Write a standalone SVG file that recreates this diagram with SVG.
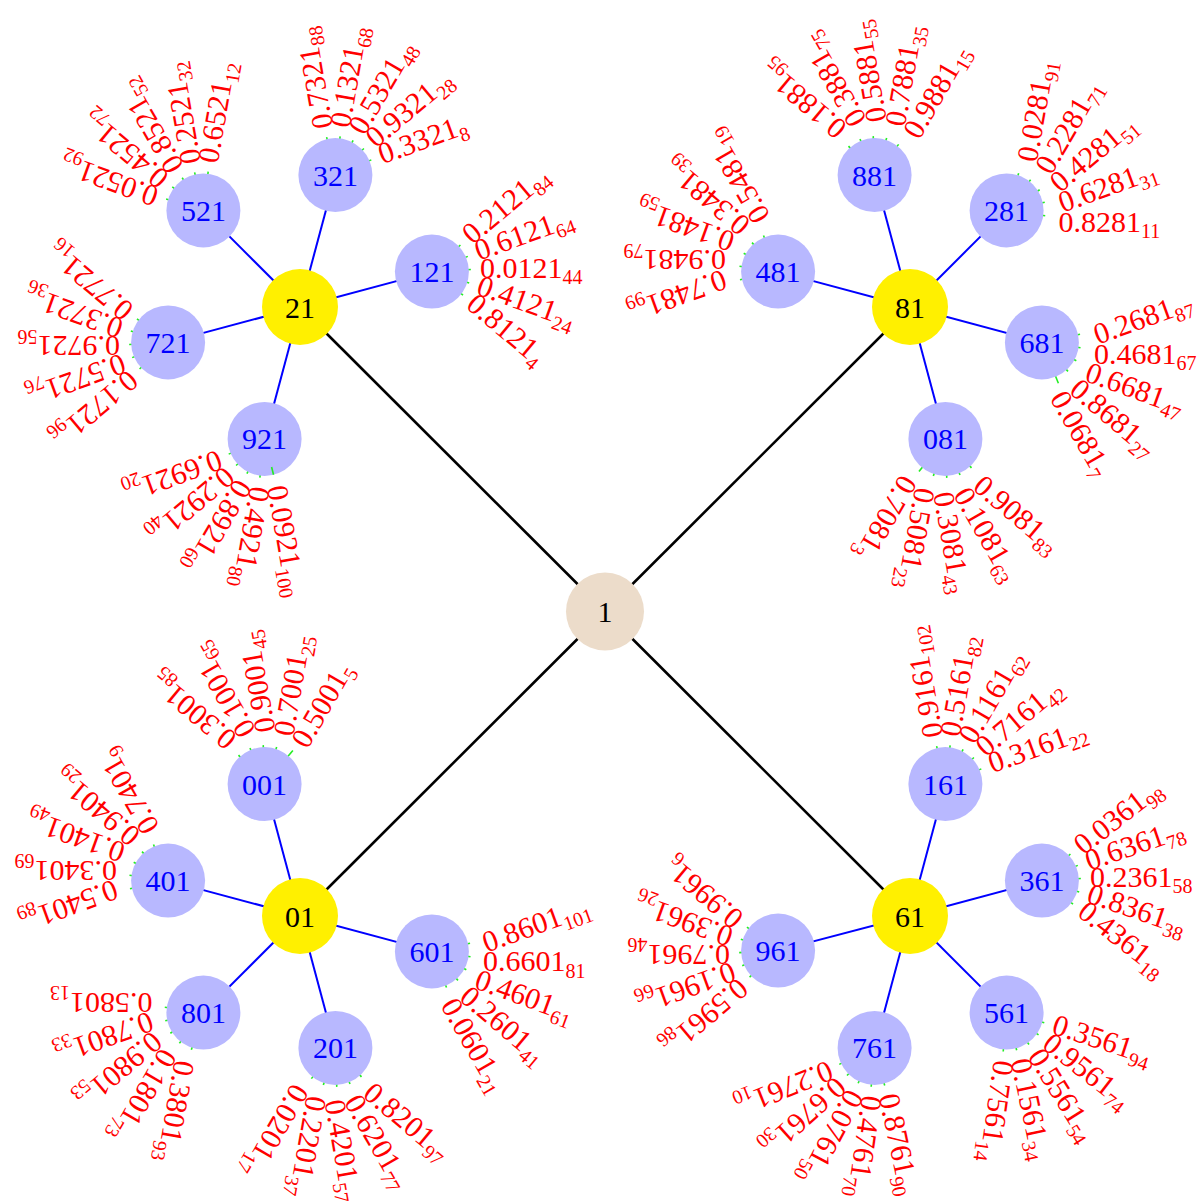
<svg xmlns="http://www.w3.org/2000/svg" width="1202" height="1202" viewBox="0 0 1202 1202">
<style>
.root{fill:#ECDCCA}
.y{fill:#FFF000}
.b{fill:#B8B8FF}
.nt{font-family:"Liberation Serif",serif;font-size:30px;text-anchor:middle;fill:#000}
.bt{fill:#0000FF}
.lf{font-family:"Liberation Serif",serif;font-size:30px;fill:#FF0000}
.sb{font-size:20px}
.e0{stroke:#000;stroke-width:2.6}
.e1{stroke:#0000FF;stroke-width:2}
.e2{stroke:#22EE22;stroke-width:1.6}
</style>
<rect width="1202" height="1202" fill="#fff"/>
<g id="connectors">
<line class="e0" x1="605" y1="611.5" x2="300" y2="307"/>
<line class="e0" x1="605" y1="611.5" x2="910" y2="307"/>
<line class="e0" x1="605" y1="611.5" x2="300" y2="916"/>
<line class="e0" x1="605" y1="611.5" x2="910" y2="916"/>
<line class="e1" x1="300" y1="307" x2="431.9" y2="271.6"/>
<line class="e1" x1="300" y1="307" x2="335.4" y2="175.1"/>
<line class="e1" x1="300" y1="307" x2="203.4" y2="210.4"/>
<line class="e1" x1="300" y1="307" x2="168.1" y2="342.4"/>
<line class="e1" x1="300" y1="307" x2="264.6" y2="438.9"/>
<line class="e1" x1="910" y1="307" x2="778.1" y2="271.6"/>
<line class="e1" x1="910" y1="307" x2="874.6" y2="175.1"/>
<line class="e1" x1="910" y1="307" x2="1006.6" y2="210.4"/>
<line class="e1" x1="910" y1="307" x2="1041.9" y2="342.4"/>
<line class="e1" x1="910" y1="307" x2="945.4" y2="438.9"/>
<line class="e1" x1="300" y1="916" x2="431.9" y2="951.4"/>
<line class="e1" x1="300" y1="916" x2="335.4" y2="1047.9"/>
<line class="e1" x1="300" y1="916" x2="203.4" y2="1012.6"/>
<line class="e1" x1="300" y1="916" x2="168.1" y2="880.6"/>
<line class="e1" x1="300" y1="916" x2="264.6" y2="784.1"/>
<line class="e1" x1="910" y1="916" x2="945.4" y2="784.1"/>
<line class="e1" x1="910" y1="916" x2="1041.9" y2="880.6"/>
<line class="e1" x1="910" y1="916" x2="1006.6" y2="1012.6"/>
<line class="e1" x1="910" y1="916" x2="874.6" y2="1047.9"/>
<line class="e1" x1="910" y1="916" x2="778.1" y2="950.6"/>
<g class="e2">
<g transform="translate(431.9,271.6)"><line x2="39" transform="rotate(-43)"/><line x2="39" transform="rotate(-23)"/><line x2="39" transform="rotate(-3)"/><line x2="39" transform="rotate(17)"/><line x2="39" transform="rotate(37)"/></g>
<g transform="translate(335.4,175.1)"><line x2="39" transform="rotate(-103)"/><line x2="39" transform="rotate(-83)"/><line x2="39" transform="rotate(-63)"/><line x2="39" transform="rotate(-43)"/><line x2="39" transform="rotate(-23)"/></g>
<g transform="translate(203.4,210.4)"><line x2="39" transform="rotate(-163)"/><line x2="39" transform="rotate(-143)"/><line x2="39" transform="rotate(-123)"/><line x2="39" transform="rotate(-103)"/><line x2="39" transform="rotate(-83)"/></g>
<g transform="translate(168.1,342.4)"><line x2="39" transform="rotate(137)"/><line x2="39" transform="rotate(157)"/><line x2="39" transform="rotate(177)"/><line x2="39" transform="rotate(197)"/><line x2="39" transform="rotate(217)"/></g>
<g transform="translate(264.6,438.9)"><line x2="39" transform="rotate(97)"/><line x2="39" transform="rotate(117)"/><line x2="39" transform="rotate(137)"/><line x2="39" transform="rotate(157)"/></g>
<g transform="translate(778.1,271.6)"><line x2="39" transform="rotate(168)"/><line x2="39" transform="rotate(188)"/><line x2="39" transform="rotate(208)"/><line x2="39" transform="rotate(228)"/><line x2="39" transform="rotate(248)"/></g>
<g transform="translate(874.6,175.1)"><line x2="39" transform="rotate(228)"/><line x2="39" transform="rotate(248)"/><line x2="39" transform="rotate(268)"/><line x2="39" transform="rotate(288)"/><line x2="39" transform="rotate(308)"/></g>
<g transform="translate(1006.6,210.4)"><line x2="39" transform="rotate(-72)"/><line x2="39" transform="rotate(-52)"/><line x2="39" transform="rotate(-32)"/><line x2="39" transform="rotate(-12)"/><line x2="39" transform="rotate(8)"/></g>
<g transform="translate(1041.9,342.4)"><line x2="39" transform="rotate(-12)"/><line x2="39" transform="rotate(8)"/><line x2="39" transform="rotate(28)"/><line x2="39" transform="rotate(48)"/><line x2="44" transform="rotate(68)"/></g>
<g transform="translate(945.4,438.9)"><line x2="39" transform="rotate(48)"/><line x2="39" transform="rotate(68)"/><line x2="39" transform="rotate(88)"/><line x2="39" transform="rotate(108)"/><line x2="42" transform="rotate(129)"/></g>
<g transform="translate(431.9,951.4)"><line x2="39" transform="rotate(-12)"/><line x2="39" transform="rotate(8)"/><line x2="39" transform="rotate(28)"/><line x2="39" transform="rotate(48)"/><line x2="39" transform="rotate(68)"/></g>
<g transform="translate(335.4,1047.9)"><line x2="39" transform="rotate(48)"/><line x2="39" transform="rotate(68)"/><line x2="39" transform="rotate(88)"/><line x2="39" transform="rotate(108)"/><line x2="39" transform="rotate(128)"/></g>
<g transform="translate(203.4,1012.6)"><line x2="39" transform="rotate(108)"/><line x2="39" transform="rotate(128)"/><line x2="39" transform="rotate(148)"/><line x2="39" transform="rotate(168)"/><line x2="39" transform="rotate(188)"/></g>
<g transform="translate(168.1,880.6)"><line x2="39" transform="rotate(168)"/><line x2="39" transform="rotate(188)"/><line x2="39" transform="rotate(208)"/><line x2="39" transform="rotate(228)"/><line x2="39" transform="rotate(248)"/></g>
<g transform="translate(264.6,784.1)"><line x2="39" transform="rotate(228)"/><line x2="39" transform="rotate(248)"/><line x2="39" transform="rotate(268)"/><line x2="39" transform="rotate(288)"/><line x2="44" transform="rotate(310)"/></g>
<g transform="translate(945.4,784.1)"><line x2="39" transform="rotate(-103)"/><line x2="39" transform="rotate(-83)"/><line x2="39" transform="rotate(-63)"/><line x2="39" transform="rotate(-43)"/><line x2="39" transform="rotate(-23)"/></g>
<g transform="translate(1041.9,880.6)"><line x2="39" transform="rotate(-43)"/><line x2="39" transform="rotate(-23)"/><line x2="39" transform="rotate(-3)"/><line x2="39" transform="rotate(17)"/><line x2="39" transform="rotate(37)"/></g>
<g transform="translate(1006.6,1012.6)"><line x2="39" transform="rotate(15)"/><line x2="39" transform="rotate(35)"/><line x2="39" transform="rotate(55)"/><line x2="39" transform="rotate(75)"/><line x2="39" transform="rotate(95)"/></g>
<g transform="translate(874.6,1047.9)"><line x2="39" transform="rotate(75)"/><line x2="39" transform="rotate(95)"/><line x2="39" transform="rotate(115)"/><line x2="39" transform="rotate(135)"/><line x2="39" transform="rotate(155)"/></g>
<g transform="translate(778.1,950.6)"><line x2="39" transform="rotate(137)"/><line x2="39" transform="rotate(157)"/><line x2="39" transform="rotate(177)"/><line x2="39" transform="rotate(197)"/><line x2="39" transform="rotate(217)"/></g>
</g>
</g>

<g id="n1"><circle class="root" cx="605" cy="611.5" r="39"/><text class="nt" x="605" y="622">1</text></g>
<g id="n21"><circle class="y" cx="300" cy="307" r="38"/><text class="nt" x="300" y="317.5">21</text></g>
<g id="n81"><circle class="y" cx="910" cy="307" r="38"/><text class="nt" x="910" y="317.5">81</text></g>
<g id="n01"><circle class="y" cx="300" cy="916" r="38"/><text class="nt" x="300" y="926.5">01</text></g>
<g id="n61"><circle class="y" cx="910" cy="916" r="38"/><text class="nt" x="910" y="926.5">61</text></g>

<g id="n121"><circle class="b" cx="431.9" cy="271.6" r="37"/><text class="nt bt" x="431.9" y="282">121</text>
<g transform="translate(431.9,271.6)">
<text class="lf" x="48" y="6" transform="rotate(-40)">0.2121<tspan class="sb" dy="6.5">84</tspan></text>
<text class="lf" x="48" y="6" transform="rotate(-20)">0.6121<tspan class="sb" dy="6.5">64</tspan></text>
<text class="lf" x="48" y="6" transform="rotate(0)">0.0121<tspan class="sb" dy="6.5">44</tspan></text>
<text class="lf" x="48" y="6" transform="rotate(20)">0.4121<tspan class="sb" dy="6.5">24</tspan></text>
<text class="lf" x="48" y="6" transform="rotate(40)">0.8121<tspan class="sb" dy="6.5">4</tspan></text>
</g></g>
<g id="n321"><circle class="b" cx="335.4" cy="175.1" r="37"/><text class="nt bt" x="335.4" y="185.5">321</text>
<g transform="translate(335.4,175.1)">
<text class="lf" x="48" y="6" transform="rotate(-100)">0.7321<tspan class="sb" dy="6.5">88</tspan></text>
<text class="lf" x="48" y="6" transform="rotate(-80)">0.1321<tspan class="sb" dy="6.5">68</tspan></text>
<text class="lf" x="48" y="6" transform="rotate(-60)">0.5321<tspan class="sb" dy="6.5">48</tspan></text>
<text class="lf" x="48" y="6" transform="rotate(-40)">0.9321<tspan class="sb" dy="6.5">28</tspan></text>
<text class="lf" x="48" y="6" transform="rotate(-20)">0.3321<tspan class="sb" dy="6.5">8</tspan></text>
</g></g>
<g id="n521"><circle class="b" cx="203.4" cy="210.4" r="37"/><text class="nt bt" x="203.4" y="220.8">521</text>
<g transform="translate(203.4,210.4)">
<text class="lf" x="48" y="6" transform="rotate(-160)">0.0521<tspan class="sb" dy="6.5">92</tspan></text>
<text class="lf" x="48" y="6" transform="rotate(-140)">0.4521<tspan class="sb" dy="6.5">72</tspan></text>
<text class="lf" x="48" y="6" transform="rotate(-120)">0.8521<tspan class="sb" dy="6.5">52</tspan></text>
<text class="lf" x="48" y="6" transform="rotate(-100)">0.2521<tspan class="sb" dy="6.5">32</tspan></text>
<text class="lf" x="48" y="6" transform="rotate(-80)">0.6521<tspan class="sb" dy="6.5">12</tspan></text>
</g></g>
<g id="n721"><circle class="b" cx="168.1" cy="342.4" r="37"/><text class="nt bt" x="168.1" y="352.8">721</text>
<g transform="translate(168.1,342.4)">
<text class="lf" x="48" y="6" transform="rotate(140)">0.1721<tspan class="sb" dy="6.5">96</tspan></text>
<text class="lf" x="48" y="6" transform="rotate(160)">0.5721<tspan class="sb" dy="6.5">76</tspan></text>
<text class="lf" x="48" y="6" transform="rotate(180)">0.9721<tspan class="sb" dy="6.5">56</tspan></text>
<text class="lf" x="48" y="6" transform="rotate(200)">0.3721<tspan class="sb" dy="6.5">36</tspan></text>
<text class="lf" x="48" y="6" transform="rotate(220)">0.7721<tspan class="sb" dy="6.5">16</tspan></text>
</g></g>
<g id="n921"><circle class="b" cx="264.6" cy="438.9" r="37"/><text class="nt bt" x="264.6" y="449.3">921</text>
<line class="e2" transform="translate(264.6,438.9) rotate(76)" x1="29" x2="37"/>
<g transform="translate(264.6,438.9)">
<text class="lf" x="48" y="6" transform="rotate(80)">0.0921<tspan class="sb" dy="6.5">100</tspan></text>
<text class="lf" x="48" y="6" transform="rotate(100)">0.4921<tspan class="sb" dy="6.5">80</tspan></text>
<text class="lf" x="48" y="6" transform="rotate(120)">0.8921<tspan class="sb" dy="6.5">60</tspan></text>
<text class="lf" x="48" y="6" transform="rotate(140)">0.2921<tspan class="sb" dy="6.5">40</tspan></text>
<text class="lf" x="48" y="6" transform="rotate(160)">0.6921<tspan class="sb" dy="6.5">20</tspan></text>
</g></g>

<g id="n481"><circle class="b" cx="778.1" cy="271.6" r="37"/><text class="nt bt" x="778.1" y="282">481</text>
<g transform="translate(778.1,271.6)">
<text class="lf" x="52" y="21.5" transform="rotate(160)">0.7481<tspan class="sb" dy="6.5">99</tspan></text>
<text class="lf" x="52" y="21.5" transform="rotate(180)">0.9481<tspan class="sb" dy="6.5">79</tspan></text>
<text class="lf" x="52" y="21.5" transform="rotate(200)">0.1481<tspan class="sb" dy="6.5">59</tspan></text>
<text class="lf" x="52" y="21.5" transform="rotate(220)">0.3481<tspan class="sb" dy="6.5">39</tspan></text>
<text class="lf" x="52" y="21.5" transform="rotate(240)">0.5481<tspan class="sb" dy="6.5">19</tspan></text>
</g></g>
<g id="n881"><circle class="b" cx="874.6" cy="175.1" r="37"/><text class="nt bt" x="874.6" y="185.5">881</text>
<g transform="translate(874.6,175.1)">
<text class="lf" x="52" y="21.5" transform="rotate(220)">0.1881<tspan class="sb" dy="6.5">95</tspan></text>
<text class="lf" x="52" y="21.5" transform="rotate(240)">0.3881<tspan class="sb" dy="6.5">75</tspan></text>
<text class="lf" x="52" y="21.5" transform="rotate(260)">0.5881<tspan class="sb" dy="6.5">55</tspan></text>
<text class="lf" x="52" y="21.5" transform="rotate(280)">0.7881<tspan class="sb" dy="6.5">35</tspan></text>
<text class="lf" x="52" y="21.5" transform="rotate(300)">0.9881<tspan class="sb" dy="6.5">15</tspan></text>
</g></g>
<g id="n281"><circle class="b" cx="1006.6" cy="210.4" r="37"/><text class="nt bt" x="1006.6" y="220.8">281</text>
<g transform="translate(1006.6,210.4)">
<text class="lf" x="52" y="21.5" transform="rotate(-80)">0.0281<tspan class="sb" dy="6.5">91</tspan></text>
<text class="lf" x="52" y="21.5" transform="rotate(-60)">0.2281<tspan class="sb" dy="6.5">71</tspan></text>
<text class="lf" x="52" y="21.5" transform="rotate(-40)">0.4281<tspan class="sb" dy="6.5">51</tspan></text>
<text class="lf" x="52" y="21.5" transform="rotate(-20)">0.6281<tspan class="sb" dy="6.5">31</tspan></text>
<text class="lf" x="52" y="21.5" transform="rotate(0)">0.8281<tspan class="sb" dy="6.5">11</tspan></text>
</g></g>
<g id="n681"><circle class="b" cx="1041.9" cy="342.4" r="37"/><text class="nt bt" x="1041.9" y="352.8">681</text>
<g transform="translate(1041.9,342.4)">
<text class="lf" x="52" y="21.5" transform="rotate(-20)">0.2681<tspan class="sb" dy="6.5">87</tspan></text>
<text class="lf" x="52" y="21.5" transform="rotate(0)">0.4681<tspan class="sb" dy="6.5">67</tspan></text>
<text class="lf" x="52" y="21.5" transform="rotate(20)">0.6681<tspan class="sb" dy="6.5">47</tspan></text>
<text class="lf" x="52" y="21.5" transform="rotate(40)">0.8681<tspan class="sb" dy="6.5">27</tspan></text>
<text class="lf" x="52" y="21.5" transform="rotate(60)">0.0681<tspan class="sb" dy="6.5">7</tspan></text>
</g></g>
<g id="n081"><circle class="b" cx="945.4" cy="438.9" r="37"/><text class="nt bt" x="945.4" y="449.3">081</text>
<g transform="translate(945.4,438.9)">
<text class="lf" x="52" y="21.5" transform="rotate(40)">0.9081<tspan class="sb" dy="6.5">83</tspan></text>
<text class="lf" x="52" y="21.5" transform="rotate(60)">0.1081<tspan class="sb" dy="6.5">63</tspan></text>
<text class="lf" x="52" y="21.5" transform="rotate(80)">0.3081<tspan class="sb" dy="6.5">43</tspan></text>
<text class="lf" x="52" y="21.5" transform="rotate(100)">0.5081<tspan class="sb" dy="6.5">23</tspan></text>
<text class="lf" x="52" y="21.5" transform="rotate(120)">0.7081<tspan class="sb" dy="6.5">3</tspan></text>
</g></g>

<g id="n601"><circle class="b" cx="431.9" cy="951.4" r="37"/><text class="nt bt" x="431.9" y="961.8">601</text>
<g transform="translate(431.9,951.4)">
<text class="lf" x="51" y="20" transform="rotate(-20)">0.8601<tspan class="sb" dy="6.5">101</tspan></text>
<text class="lf" x="51" y="20" transform="rotate(0)">0.6601<tspan class="sb" dy="6.5">81</tspan></text>
<text class="lf" x="51" y="20" transform="rotate(20)">0.4601<tspan class="sb" dy="6.5">61</tspan></text>
<text class="lf" x="51" y="20" transform="rotate(40)">0.2601<tspan class="sb" dy="6.5">41</tspan></text>
<text class="lf" x="51" y="20" transform="rotate(60)">0.0601<tspan class="sb" dy="6.5">21</tspan></text>
</g></g>
<g id="n201"><circle class="b" cx="335.4" cy="1047.9" r="37"/><text class="nt bt" x="335.4" y="1058.3">201</text>
<g transform="translate(335.4,1047.9)">
<text class="lf" x="51" y="20" transform="rotate(40)">0.8201<tspan class="sb" dy="6.5">97</tspan></text>
<text class="lf" x="51" y="20" transform="rotate(60)">0.6201<tspan class="sb" dy="6.5">77</tspan></text>
<text class="lf" x="51" y="20" transform="rotate(80)">0.4201<tspan class="sb" dy="6.5">57</tspan></text>
<text class="lf" x="51" y="20" transform="rotate(100)">0.2201<tspan class="sb" dy="6.5">37</tspan></text>
<text class="lf" x="51" y="20" transform="rotate(120)">0.0201<tspan class="sb" dy="6.5">17</tspan></text>
</g></g>
<g id="n801"><circle class="b" cx="203.4" cy="1012.6" r="37"/><text class="nt bt" x="203.4" y="1023">801</text>
<g transform="translate(203.4,1012.6)">
<text class="lf" x="51" y="20" transform="rotate(100)">0.3801<tspan class="sb" dy="6.5">93</tspan></text>
<text class="lf" x="51" y="20" transform="rotate(120)">0.1801<tspan class="sb" dy="6.5">73</tspan></text>
<text class="lf" x="51" y="20" transform="rotate(140)">0.9801<tspan class="sb" dy="6.5">53</tspan></text>
<text class="lf" x="51" y="20" transform="rotate(160)">0.7801<tspan class="sb" dy="6.5">33</tspan></text>
<text class="lf" x="51" y="20" transform="rotate(180)">0.5801<tspan class="sb" dy="6.5">13</tspan></text>
</g></g>
<g id="n401"><circle class="b" cx="168.1" cy="880.6" r="37"/><text class="nt bt" x="168.1" y="891">401</text>
<g transform="translate(168.1,880.6)">
<text class="lf" x="51" y="20" transform="rotate(160)">0.5401<tspan class="sb" dy="6.5">89</tspan></text>
<text class="lf" x="51" y="20" transform="rotate(180)">0.3401<tspan class="sb" dy="6.5">69</tspan></text>
<text class="lf" x="51" y="20" transform="rotate(200)">0.1401<tspan class="sb" dy="6.5">49</tspan></text>
<text class="lf" x="51" y="20" transform="rotate(220)">0.9401<tspan class="sb" dy="6.5">29</tspan></text>
<text class="lf" x="51" y="20" transform="rotate(240)">0.7401<tspan class="sb" dy="6.5">9</tspan></text>
</g></g>
<g id="n001"><circle class="b" cx="264.6" cy="784.1" r="37"/><text class="nt bt" x="264.6" y="794.5">001</text>
<g transform="translate(264.6,784.1)">
<text class="lf" x="51" y="20" transform="rotate(220)">0.3001<tspan class="sb" dy="6.5">85</tspan></text>
<text class="lf" x="51" y="20" transform="rotate(240)">0.1001<tspan class="sb" dy="6.5">65</tspan></text>
<text class="lf" x="51" y="20" transform="rotate(260)">0.9001<tspan class="sb" dy="6.5">45</tspan></text>
<text class="lf" x="51" y="20" transform="rotate(280)">0.7001<tspan class="sb" dy="6.5">25</tspan></text>
<text class="lf" x="51" y="20" transform="rotate(300)">0.5001<tspan class="sb" dy="6.5">5</tspan></text>
</g></g>

<g id="n161"><circle class="b" cx="945.4" cy="784.1" r="37"/><text class="nt bt" x="945.4" y="794.5">161</text>
<g transform="translate(945.4,784.1)">
<text class="lf" x="48" y="6" transform="rotate(-100)">0.9161<tspan class="sb" dy="6.5">102</tspan></text>
<text class="lf" x="48" y="6" transform="rotate(-80)">0.5161<tspan class="sb" dy="6.5">82</tspan></text>
<text class="lf" x="48" y="6" transform="rotate(-60)">0.1161<tspan class="sb" dy="6.5">62</tspan></text>
<text class="lf" x="48" y="6" transform="rotate(-40)">0.7161<tspan class="sb" dy="6.5">42</tspan></text>
<text class="lf" x="48" y="6" transform="rotate(-20)">0.3161<tspan class="sb" dy="6.5">22</tspan></text>
</g></g>
<g id="n361"><circle class="b" cx="1041.9" cy="880.6" r="37"/><text class="nt bt" x="1041.9" y="891">361</text>
<g transform="translate(1041.9,880.6)">
<text class="lf" x="48" y="6" transform="rotate(-38)">0.0361<tspan class="sb" dy="6.5">98</tspan></text>
<text class="lf" x="48" y="6" transform="rotate(-19)">0.6361<tspan class="sb" dy="6.5">78</tspan></text>
<text class="lf" x="48" y="6" transform="rotate(0)">0.2361<tspan class="sb" dy="6.5">58</tspan></text>
<text class="lf" x="48" y="6" transform="rotate(19)">0.8361<tspan class="sb" dy="6.5">38</tspan></text>
<text class="lf" x="48" y="6" transform="rotate(38)">0.4361<tspan class="sb" dy="6.5">18</tspan></text>
</g></g>
<g id="n561"><circle class="b" cx="1006.6" cy="1012.6" r="37"/><text class="nt bt" x="1006.6" y="1023">561</text>
<g transform="translate(1006.6,1012.6)">
<text class="lf" x="48" y="6" transform="rotate(18)">0.3561<tspan class="sb" dy="6.5">94</tspan></text>
<text class="lf" x="48" y="6" transform="rotate(38)">0.9561<tspan class="sb" dy="6.5">74</tspan></text>
<text class="lf" x="48" y="6" transform="rotate(58)">0.5561<tspan class="sb" dy="6.5">54</tspan></text>
<text class="lf" x="48" y="6" transform="rotate(78)">0.1561<tspan class="sb" dy="6.5">34</tspan></text>
<text class="lf" x="48" y="6" transform="rotate(98)">0.7561<tspan class="sb" dy="6.5">14</tspan></text>
</g></g>
<g id="n761"><circle class="b" cx="874.6" cy="1047.9" r="37"/><text class="nt bt" x="874.6" y="1058.3">761</text>
<g transform="translate(874.6,1047.9)">
<text class="lf" x="48" y="6" transform="rotate(78)">0.8761<tspan class="sb" dy="6.5">90</tspan></text>
<text class="lf" x="48" y="6" transform="rotate(98)">0.4761<tspan class="sb" dy="6.5">70</tspan></text>
<text class="lf" x="48" y="6" transform="rotate(118)">0.0761<tspan class="sb" dy="6.5">50</tspan></text>
<text class="lf" x="48" y="6" transform="rotate(138)">0.6761<tspan class="sb" dy="6.5">30</tspan></text>
<text class="lf" x="48" y="6" transform="rotate(158)">0.2761<tspan class="sb" dy="6.5">10</tspan></text>
</g></g>
<g id="n961"><circle class="b" cx="778.1" cy="950.6" r="37"/><text class="nt bt" x="778.1" y="961">961</text>
<g transform="translate(778.1,950.6)">
<text class="lf" x="48" y="6" transform="rotate(140)">0.5961<tspan class="sb" dy="6.5">86</tspan></text>
<text class="lf" x="48" y="6" transform="rotate(160)">0.1961<tspan class="sb" dy="6.5">66</tspan></text>
<text class="lf" x="48" y="6" transform="rotate(180)">0.7961<tspan class="sb" dy="6.5">46</tspan></text>
<text class="lf" x="48" y="6" transform="rotate(200)">0.3961<tspan class="sb" dy="6.5">26</tspan></text>
<text class="lf" x="48" y="6" transform="rotate(220)">0.9961<tspan class="sb" dy="6.5">6</tspan></text>
</g></g>
</svg>
